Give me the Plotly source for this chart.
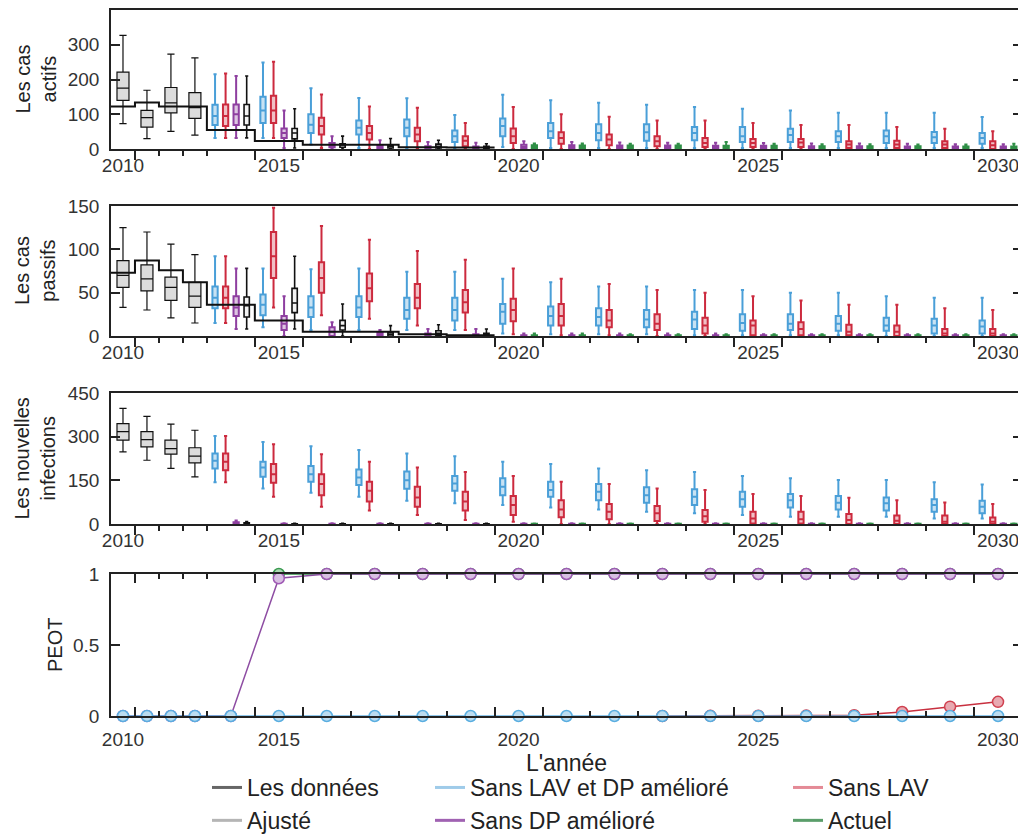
import plotly.graph_objects as go

# ---------------- data ----------------
YEARS = list(range(2010, 2031))
FIT_YEARS = [2010, 2011, 2012, 2013]
SCEN_YEARS = list(range(2014, 2031))
BLACK_YEARS = list(range(2014, 2020))
GREEN_YEARS = list(range(2020, 2031))
DATA_YEARS = list(range(2010, 2020))
TICK_YEARS = [2010, 2015, 2020, 2025, 2030]

# box stats: (lower whisker, q1, median, q3, upper whisker)
# --- panel 1 : active cases
ACT_DATA = [122, 134, 122, 122, 55, 23, 12, 12, 5, 4]
ACT_FIT = [(73, 140, 175, 221, 327), (30, 63, 90, 111, 169), (51, 104, 133, 177, 273), (40, 88, 119, 162, 262)]
ACT_BLUE = [(32, 69, 95, 127, 215), (32, 75, 111, 150, 249), (13, 46, 70, 100, 175), (3, 42, 61, 82, 147),
            (3, 37, 61, 85, 146), (3, 20, 37, 53, 98), (6, 37, 66, 88, 156), (3, 32, 51, 75, 140),
            (3, 25, 46, 71, 133), (3, 24, 48, 71, 127), (3, 25, 46, 63, 121), (3, 20, 37, 63, 116),
            (3, 20, 40, 58, 111), (3, 20, 37, 51, 104), (3, 17, 37, 53, 104), (3, 17, 34, 49, 104),
            (3, 15, 32, 46, 92)]
ACT_RED = [(32, 66, 95, 128, 217), (32, 75, 111, 153, 251), (3, 42, 66, 90, 157), (0, 27, 46, 66, 122),
           (0, 22, 42, 61, 119), (0, 8, 24, 37, 75), (0, 17, 37, 59, 121), (0, 15, 32, 48, 100),
           (0, 11, 27, 42, 93), (0, 8, 22, 37, 82), (0, 6, 17, 32, 82), (0, 6, 17, 29, 75),
           (0, 6, 19, 29, 69), (0, 3, 13, 22, 69), (0, 3, 13, 24, 63), (0, 3, 13, 22, 58),
           (0, 0, 11, 22, 51)]
ACT_PURPLE = [(32, 69, 100, 128, 210), (3, 32, 46, 59, 111), (0, 5, 10, 17, 37), (0, 3, 6, 10, 25),
              (0, 2, 5, 8, 20), (0, 2, 4, 7, 18), (0, 2, 6, 12, 22), (0, 2, 6, 11, 20),
              (0, 2, 5, 10, 19), (0, 2, 5, 10, 18), (0, 2, 5, 9, 18), (0, 1, 4, 9, 17),
              (0, 1, 4, 8, 16), (0, 1, 4, 8, 16), (0, 1, 3, 7, 15), (0, 1, 3, 7, 14),
              (0, 1, 3, 7, 14)]
ACT_BLACK = [(32, 69, 95, 128, 210), (3, 29, 46, 59, 116), (0, 5, 12, 15, 37), (0, 3, 8, 12, 30),
             (0, 3, 8, 14, 25), (0, 2, 5, 8, 15)]
ACT_GREEN = [(0, 2, 6, 11, 16), (0, 2, 5, 10, 16), (0, 2, 5, 10, 15), (0, 2, 5, 10, 15),
             (0, 2, 5, 9, 20), (0, 1, 4, 9, 15), (0, 1, 4, 8, 14), (0, 1, 4, 8, 14),
             (0, 1, 4, 8, 13), (0, 1, 3, 7, 13), (0, 1, 3, 7, 15)]

# --- panel 2 : passive cases
PAS_DATA = [73, 87, 76, 62, 36, 18, 5, 5, 2, 1]
PAS_FIT = [(33, 56, 70, 87, 125), (30, 52, 66, 82, 120), (21, 41, 56, 68, 106), (15, 33, 46, 62, 94)]
PAS_BLUE = [(15, 32, 44, 57, 92), (10, 24, 36, 48, 78), (7, 22, 33, 46, 77), (7, 22, 33, 46, 78),
            (7, 20, 30, 44, 74), (7, 18, 30, 44, 74), (3, 14, 28, 37, 66), (2, 12, 23, 34, 62),
            (2, 12, 22, 32, 57), (2, 10, 19, 30, 57), (1, 8, 19, 28, 53), (1, 6, 15, 25, 53),
            (1, 7, 14, 25, 50), (1, 6, 14, 23, 50), (0, 6, 12, 21, 46), (0, 3, 12, 20, 44),
            (0, 3, 11, 18, 44)]
PAS_RED = [(15, 32, 44, 57, 92), (33, 67, 92, 120, 148), (24, 50, 67, 85, 127), (20, 40, 55, 72, 111),
           (12, 32, 44, 60, 98), (7, 27, 39, 53, 88), (2, 17, 30, 43, 78), (1, 12, 23, 37, 66),
           (1, 10, 18, 30, 60), (0, 7, 14, 25, 53), (0, 3, 12, 21, 50), (0, 1, 12, 18, 46),
           (0, 1, 8, 16, 41), (0, 1, 5, 13, 36), (0, 0, 5, 12, 36), (0, 0, 3, 8, 32),
           (0, 0, 3, 8, 30)]
PAS_PURPLE = [(8, 23, 33, 46, 78), (0, 7, 14, 23, 46), (0, 0, 5, 10, 16), (0, 0, 2, 4, 7),
              (0, 0, 1, 3, 8), (0, 0, 1, 2, 8), (0, 0, 1, 1, 3), (0, 0, 1, 1, 3),
              (0, 0, 1, 1, 3), (0, 0, 1, 1, 3), (0, 0, 1, 1, 3), (0, 0, 1, 1, 2),
              (0, 0, 1, 1, 2), (0, 0, 1, 1, 2), (0, 0, 1, 1, 2), (0, 0, 1, 1, 2),
              (0, 0, 1, 1, 2)]
PAS_BLACK = [(8, 22, 35, 45, 78), (8, 27, 38, 55, 92), (0, 7, 12, 18, 37), (0, 0, 2, 4, 12),
             (0, 1, 3, 6, 13), (0, 0, 1, 3, 8)]
PAS_GREEN = [(0, 0, 1, 1, 3), (0, 0, 1, 1, 3), (0, 0, 1, 1, 2), (0, 0, 1, 1, 2),
             (0, 0, 1, 1, 2), (0, 0, 1, 1, 2), (0, 0, 1, 1, 2), (0, 0, 1, 1, 2),
             (0, 0, 1, 1, 2), (0, 0, 1, 1, 2), (0, 0, 1, 1, 2)]

# --- panel 3 : new infections
NEW_FIT = [(248, 288, 317, 345, 397), (219, 265, 290, 317, 370), (191, 240, 259, 288, 343), (162, 210, 233, 262, 322)]
NEW_BLUE = [(143, 191, 217, 242, 302), (122, 162, 194, 214, 282), (107, 145, 171, 199, 267), (94, 134, 160, 187, 254),
            (80, 121, 150, 180, 242), (71, 114, 139, 165, 233), (65, 99, 128, 157, 214), (57, 94, 117, 145, 206),
            (50, 82, 111, 137, 191), (42, 73, 99, 126, 185), (37, 65, 94, 119, 179), (31, 59, 85, 111, 165),
            (25, 57, 82, 103, 157), (25, 50, 73, 96, 151), (25, 46, 71, 91, 151), (19, 42, 65, 85, 143),
            (19, 37, 59, 80, 136)]
NEW_RED = [(143, 185, 214, 242, 302), (94, 142, 171, 206, 274), (59, 99, 137, 171, 240), (46, 77, 114, 145, 214),
           (31, 59, 91, 128, 194), (14, 46, 77, 111, 179), (8, 31, 65, 96, 165), (0, 23, 50, 82, 145),
           (0, 16, 42, 69, 137), (0, 10, 37, 62, 122), (0, 8, 27, 48, 117), (0, 2, 19, 42, 103),
           (0, 2, 16, 42, 96), (0, 0, 14, 34, 90), (0, 0, 11, 29, 82), (0, 0, 8, 29, 74),
           (0, 0, 8, 22, 69)]
NEW_PURPLE = [(0, 0, 3, 6, 12)] + [(0, 0, 1, 1, 3)] * 16
NEW_BLACK = [(0, 0, 2, 4, 8)] + [(0, 0, 1, 1, 2)] * 5
NEW_GREEN = [(0, 0, 1, 1, 2)] * 11

# --- panel 4 : PEOT (2010-2030)
PEOT_BLUE = [0] * 21
PEOT_PURPLE = [0, 0, 0, 0, 0, 0.97] + [1] * 15
PEOT_GREEN = [None] * 5 + [1] * 16
PEOT_RED = [None] * 13 + [0, 0.001, 0.002, 0.003, 0.005, 0.028, 0.066, 0.10]

# ---------------- styling ----------------
BLUE, BLUE_F = '#4a9fd8', 'rgba(74,159,216,0.30)'
RED, RED_F = '#cc2a3e', 'rgba(204,42,62,0.30)'
PURPLE, PURPLE_F = '#8e3fa0', 'rgba(142,63,160,0.30)'
GREEN, GREEN_F = '#2f8f46', 'rgba(47,143,70,0.30)'
BLACK = '#111111'
AX = '#222222'
FONT = 'Liberation Sans, Arial, sans-serif'

# the page body has an 8 px margin: the figure is made 8 px smaller and
# every pixel placement below is given in page pixels minus that offset
PAGE_W, PAGE_H, BODY = 1026, 834, 8
FIG_W, FIG_H = PAGE_W - BODY, PAGE_H - BODY


def xpos(year):
    # the first fitted years are drawn in half-width slots
    return 11.75 + 0.5 * (year - 2010) if year <= 2013 else float(year - 2000)


def half(year):
    return 0.25 if year <= 2013 else 0.5


X_RANGE = [xpos(2010) - half(2010), xpos(2030) + half(2030)]
EDGES = [xpos(y) - half(y) for y in YEARS[1:]]
LONG = sorted({e for t in TICK_YEARS for e in (xpos(t) - half(t), xpos(t) + half(t))
               if X_RANGE[0] < e < X_RANGE[1]})
SHORT = [e for e in EDGES if e not in LONG]

OFF = {'blue': -0.33, 'red': -0.11, 'purple': 0.11, 'black': 0.33, 'green': 0.33}

fig = go.Figure()


def add_box(row, years, stats, off, color, fill, width, lw):
    fig.add_trace(go.Box(
        x=[xpos(y) + off for y in years],
        lowerfence=[s[0] for s in stats], q1=[s[1] for s in stats],
        median=[s[2] for s in stats], q3=[s[3] for s in stats],
        upperfence=[s[4] for s in stats],
        width=width, whiskerwidth=0.6, boxpoints=False,
        line=dict(color=color, width=lw), fillcolor=fill,
        showlegend=False, hoverinfo='skip',
        xaxis=f'x{row}', yaxis=f'y{row}'))


def add_panel(row, fit, blue, red, purple, black, green, data=None):
    add_box(row, FIT_YEARS, fit, 0, BLACK, '#dcdcdc', 0.25, 1.2)
    add_box(row, SCEN_YEARS, blue, OFF['blue'], BLUE, BLUE_F, 0.11, 2)
    add_box(row, SCEN_YEARS, red, OFF['red'], RED, RED_F, 0.11, 2)
    add_box(row, SCEN_YEARS, purple, OFF['purple'], PURPLE, PURPLE_F, 0.11, 2)
    add_box(row, BLACK_YEARS, black, OFF['black'], BLACK, 'rgba(240,240,240,0.8)', 0.11, 1.6)
    add_box(row, GREEN_YEARS, green, OFF['green'], GREEN, GREEN_F, 0.11, 2)
    if data is not None:
        xs = [xpos(y) - half(y) for y in DATA_YEARS] + [xpos(DATA_YEARS[-1]) + half(DATA_YEARS[-1])]
        fig.add_trace(go.Scatter(x=xs, y=list(data) + [data[-1]], mode='lines',
                                 line=dict(color=BLACK, width=2, shape='hv'),
                                 showlegend=False, hoverinfo='skip',
                                 xaxis=f'x{row}', yaxis=f'y{row}'))


add_panel(1, ACT_FIT, ACT_BLUE, ACT_RED, ACT_PURPLE, ACT_BLACK, ACT_GREEN, ACT_DATA)
add_panel(2, PAS_FIT, PAS_BLUE, PAS_RED, PAS_PURPLE, PAS_BLACK, PAS_GREEN, PAS_DATA)
add_panel(3, NEW_FIT, NEW_BLUE, NEW_RED, NEW_PURPLE, NEW_BLACK, NEW_GREEN)

XP = [xpos(y) for y in YEARS]
for vals, line_c, fill_c, edge_c in [
        (PEOT_GREEN, '#2f8f46', 'rgba(120,190,130,0.6)', '#3a9a50'),
        (PEOT_RED, '#c8303f', '#e8a9b1', '#d0404f'),
        (PEOT_PURPLE, '#8e4da3', '#d8c0e2', '#a05ab5'),
        (PEOT_BLUE, '#6bb5e3', '#bcdcf0', '#5aaee0')]:
    fig.add_trace(go.Scatter(x=XP, y=vals, mode='lines+markers', cliponaxis=False,
                             line=dict(color=line_c, width=1.5),
                             marker=dict(size=11, color=fill_c, line=dict(color=edge_c, width=1.5)),
                             showlegend=False, hoverinfo='skip', xaxis='x4', yaxis='y4'))

# empty traces so that the year-label axes (overlays) get drawn
for i in range(1, 5):
    fig.add_trace(go.Scatter(x=[None], y=[None], mode='markers', showlegend=False,
                             hoverinfo='skip', xaxis=f'x{i + 4}', yaxis=f'y{i}'))

# legend entries (three columns)
LEG = [('legend', 'Les données', '#666666'), ('legend', 'Ajusté', '#b5b5b5'),
       ('legend2', 'Sans LAV et DP amélioré', '#9fcbe9'), ('legend2', 'Sans DP amélioré', '#a062b2'),
       ('legend3', 'Sans LAV', '#e48a96'), ('legend3', 'Actuel', '#5a9e6a')]
for lg, name, c in LEG:
    fig.add_trace(go.Scatter(x=[None], y=[None], mode='lines', name=name,
                             line=dict(color=c, width=3), legend=lg, xaxis='x4', yaxis='y4'))

# ---------------- layout ----------------
M_L, M_R, M_T, M_B = 111 - BODY, 4, 10 - BODY, PAGE_H - 716
H_PLOT = FIG_H - M_T - M_B
W_PLOT = FIG_W - M_L - M_R


def dom(top_px, bot_px):
    return [(716 - bot_px) / H_PLOT, (716 - top_px) / H_PLOT]


Y_SPECS = [
    (dom(10, 149), [0, 400], [0, 100, 200, 300], ['0', '100', '200', '300'], 'Les cas<br>actifs', 35),
    (dom(206, 336), [0, 150], [0, 50, 100, 150], ['0', '50', '100', '150'], 'Les cas<br>passifs', 35),
    (dom(393, 524), [0, 450], [0, 150, 300, 450], ['0', '150', '300', '450'], 'Les nouvelles<br>infections', 35),
    (dom(574, 716), [0, 1], [0, 0.5, 1], ['0', '0.5', '1'], 'PEOT', 55),
]

layout = dict(width=FIG_W, height=FIG_H, margin=dict(l=M_L, r=M_R, t=M_T, b=M_B, autoexpand=False),
              plot_bgcolor='white', paper_bgcolor='white', boxmode='overlay',
              font=dict(family=FONT, size=19, color='#333333'))

annotations = []
for i, (d, rng, tv, tt, title, tx) in enumerate(Y_SPECS, start=1):
    last = (i == 4)
    layout[f'yaxis{i}'] = dict(domain=d, range=rng, anchor=f'x{i}', tickvals=tv, ticktext=tt,
                               ticks='inside', ticklen=9, tickwidth=1.5, tickcolor=AX,
                               showline=True, linecolor=AX, linewidth=1.5, mirror='ticks',
                               showgrid=False, zeroline=False, ticklabelstandoff=6,
                               automargin=False, tickfont=dict(size=19, color='#333333'))
    annotations.append(dict(text=title, textangle=-90, xref='paper', yref='paper',
                            x=(tx - 111) / W_PLOT, y=(d[0] + d[1]) / 2,
                            xanchor='center', yanchor='middle', showarrow=False,
                            font=dict(size=20, color='#222222', family=FONT)))
    tick_dir = 'inside' if last else 'outside'
    layout[f'xaxis{i}'] = dict(domain=[0, 1], range=X_RANGE, anchor=f'y{i}', automargin=False,
                               tickmode='array', tickvals=LONG, ticks=tick_dir, ticklen=9,
                               tickwidth=1.5, tickcolor=AX, showticklabels=False,
                               minor=dict(tickmode='array', tickvals=SHORT, ticks=tick_dir,
                                          ticklen=5, tickwidth=1.5, tickcolor=AX),
                               showline=True, linecolor=AX, linewidth=1.5,
                               mirror='ticks' if last else True,
                               showgrid=False, zeroline=False)
    lab = dict(overlaying=f'x{i}', anchor=f'y{i}', side='bottom', range=X_RANGE, domain=[0, 1],
               tickmode='array', tickvals=[xpos(y) for y in TICK_YEARS], automargin=False,
               ticktext=[str(y) for y in TICK_YEARS], ticks='', showline=False,
               showgrid=False, zeroline=False, ticklabelstandoff=3 if not last else 10,
               tickfont=dict(size=19, color='#333333'))
    if last:
        lab['title'] = dict(text="L'année", font=dict(size=23, color='#222222'), standoff=0)
    layout[f'xaxis{i + 4}'] = lab

layout['annotations'] = annotations

for lg, x in [('legend', 207), ('legend2', 430), ('legend3', 788)]:
    layout[lg] = dict(x=(x - BODY) / FIG_W, y=1 - (766 - BODY) / FIG_H,
                      xref='container', yref='container', xanchor='left', yanchor='top',
                      orientation='v', font=dict(size=23, color='#222222', family=FONT),
                      bgcolor='rgba(0,0,0,0)', tracegroupgap=0, itemwidth=30)

fig.update_layout(**layout)
fig.write_html('out.html')
